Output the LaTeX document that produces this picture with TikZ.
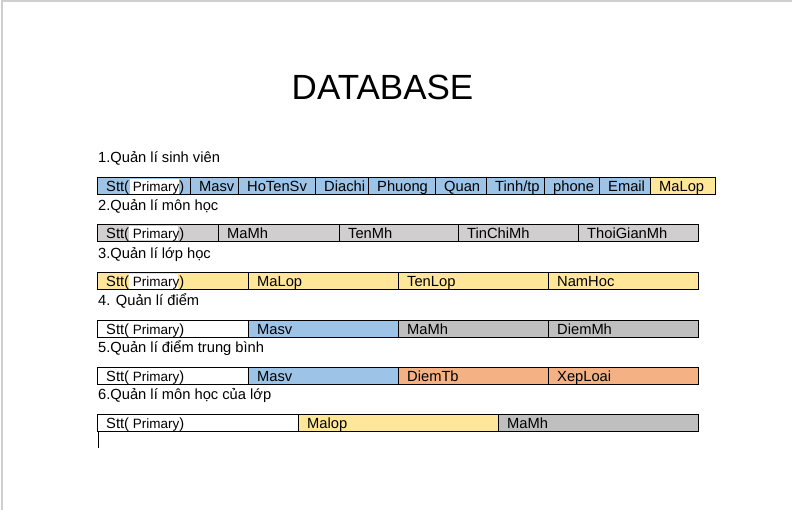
\documentclass[tikz,border=0pt]{standalone}
\usepackage{fontspec}
\setmainfont{Liberation Sans}
\definecolor{cblue}{HTML}{9DC3E6}
\definecolor{cgrayA}{HTML}{D0CECE}
\definecolor{cyel}{HTML}{FFE699}
\definecolor{cgrayB}{HTML}{BFBFBF}
\definecolor{corange}{HTML}{F4B183}
\definecolor{pageedge}{HTML}{CFCFCF}
\tikzset{
  cellline/.style={draw=black, line width=1pt},
  celltext/.style={anchor=base west, inner sep=0pt, font=\fontsize{14.7}{16}\selectfont},
  headtext/.style={anchor=base west, inner sep=0pt, font=\fontsize{14.7}{16}\selectfont}
}
\newcommand\mkcell[6]{%
  \path[cellline, fill=#4] (#1,#3) rectangle (#2,#3+17);
  \node[celltext] (#6) at (#1+9,#3+13.7) {#5};}
\begin{document}
\begin{tikzpicture}[x=1pt,y=-1pt]
\useasboundingbox (0,0) rectangle (792,510);
\fill[white] (0,0) rectangle (792,510);
\draw[pageedge, line width=1.5pt] (2,510) -- (2,1) -- (792,1);

\node[anchor=base, inner sep=0pt, font=\fontsize{35}{40}\selectfont] (title) at (382.5,99.5) {DATABASE};

% headings
\node[headtext] (h1) at (98,163) {1.Quản lí sinh viên};
\node[headtext] (h2) at (98,210.5) {2.Quản lí môn học};
\node[headtext] (h3) at (98,258.5) {3.Quản lí lớp học};
\node[headtext] (h4) at (98,305.5) {4. Quản lí điểm};
\node[headtext] (h5) at (98,352.5) {5.Quản lí điểm trung bình};
\node[headtext] (h6) at (98,399.5) {6.Quản lí môn học của lớp};

% row 1
\path[cellline, fill=cblue] (97,178) rectangle (190,195);
\fill[white] (130,179.5) rectangle (179,194);
\node[celltext] (r1c1) at (106,191.7) {Stt(\fontsize{13.5}{15}\selectfont\ Primary\fontsize{14.7}{16}\selectfont)};
\mkcell{190}{238}{178}{cblue}{Masv}{r1c2}
\mkcell{238}{315}{178}{cblue}{HoTenSv}{r1c3}
\mkcell{315}{368}{178}{cblue}{Diachi}{r1c4}
\mkcell{368}{435}{178}{cblue}{Phuong}{r1c5}
\mkcell{435}{486}{178}{cblue}{Quan}{r1c6}
\mkcell{486}{544}{178}{cblue}{Tinh/tp}{r1c7}
\mkcell{544}{599}{178}{cblue}{phone}{r1c8}
\mkcell{599}{650}{178}{cblue}{Email}{r1c9}
\mkcell{650}{715}{178}{cyel}{MaLop}{r1c10}

% row 2
\path[cellline, fill=cgrayA] (97,224.5) rectangle (218,241.5);
\fill[white] (129,226) rectangle (178,240.5);
\node[celltext] (r2c1) at (106,238.2) {Stt(\fontsize{13.5}{15}\selectfont\ Primary\fontsize{14.7}{16}\selectfont)};
\mkcell{218}{339}{224.5}{cgrayA}{MaMh}{r2c2}
\mkcell{339}{458}{224.5}{cgrayA}{TenMh}{r2c3}
\mkcell{458}{578}{224.5}{cgrayA}{TinChiMh}{r2c4}
\mkcell{578}{698}{224.5}{cgrayA}{ThoiGianMh}{r2c5}

% row 3
\path[cellline, fill=cyel] (97,273) rectangle (248,290);
\fill[white] (129,274.5) rectangle (178,289);
\node[celltext] (r3c1) at (106,286.7) {Stt(\fontsize{13.5}{15}\selectfont\ Primary\fontsize{14.7}{16}\selectfont)};
\mkcell{248}{398}{273}{cyel}{MaLop}{r3c2}
\mkcell{398}{548}{273}{cyel}{TenLop}{r3c3}
\mkcell{548}{698}{273}{cyel}{NamHoc}{r3c4}

% row 4
\mkcell{97}{248}{320.5}{white}{Stt(\fontsize{13.5}{15}\selectfont\ Primary\fontsize{14.7}{16}\selectfont)}{r4c1}
\mkcell{248}{398}{320.5}{cblue}{Masv}{r4c2}
\mkcell{398}{548}{320.5}{cgrayB}{MaMh}{r4c3}
\mkcell{548}{698}{320.5}{cgrayB}{DiemMh}{r4c4}

% row 5
\mkcell{97}{248}{367.5}{white}{Stt(\fontsize{13.5}{15}\selectfont\ Primary\fontsize{14.7}{16}\selectfont)}{r5c1}
\mkcell{248}{398}{367.5}{cblue}{Masv}{r5c2}
\mkcell{398}{548}{367.5}{corange}{DiemTb}{r5c3}
\mkcell{548}{698}{367.5}{corange}{XepLoai}{r5c4}

% row 6
\mkcell{97}{298}{414.5}{white}{Stt(\fontsize{13.5}{15}\selectfont\ Primary\fontsize{14.7}{16}\selectfont)}{r6c1}
\mkcell{298}{498}{414.5}{cyel}{Malop}{r6c2}
\mkcell{498}{698}{414.5}{cgrayB}{MaMh}{r6c3}

% cursor
\coordinate (curA) at (98,432);
\coordinate (curB) at (98,448);
\draw[black, line width=0.8pt] (curA) -- (curB);
\end{tikzpicture}
\end{document}
